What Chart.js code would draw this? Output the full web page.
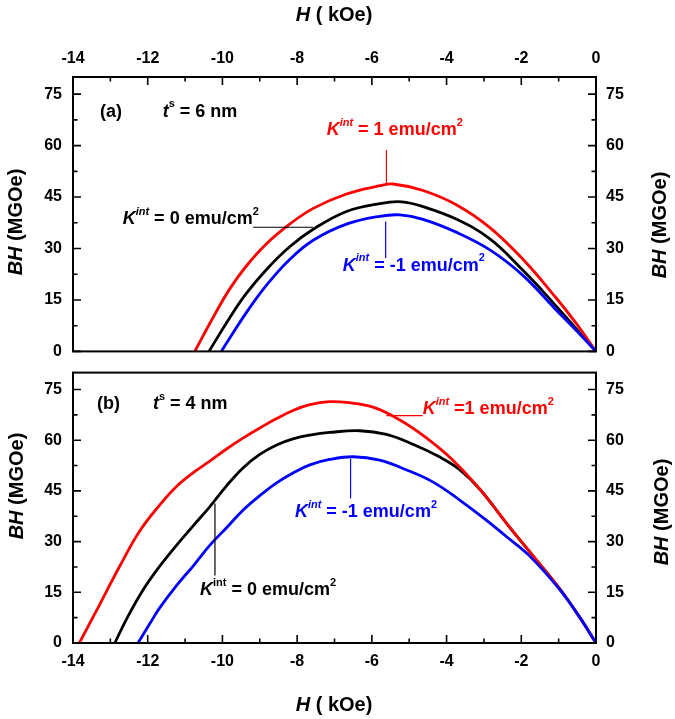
<!DOCTYPE html>
<html><head><meta charset="utf-8">
<script src="https://cdn.jsdelivr.net/npm/chart.js@4.4.0/dist/chart.umd.min.js"></script>
<style>
html,body{margin:0;padding:0;background:#fff;}
#wrap{position:relative;width:675px;height:719px;overflow:hidden;background:#fff;}
#c1{position:absolute;left:0;top:0;}
#c2{position:absolute;left:0;top:352px;}
</style></head><body>
<div id="wrap"><canvas id="c1" width="675" height="372"></canvas><canvas id="c2" width="675" height="367"></canvas></div>
<script>
// ---- data: panel (a), t^s = 6 nm ----
const topRedH    = [-10.74,-10.25,-9.80,-9.36,-8.82,-8.20,-7.57,-6.68,-5.79,-5.43,-4.63,-3.73,-2.84,-1.95,-1.06,-0.52,0];
const topRedBH   = [0,9.9,18.3,24.9,31.4,37.1,41.7,45.9,48.3,48.8,46.9,42.7,36.1,26.8,15.5,8.0,0];
const topBlackH  = [-10.36,-9.80,-9.36,-8.82,-8.20,-7.57,-6.68,-5.79,-5.20,-4.63,-3.73,-2.84,-1.95,-1.42,-1.06,-0.52,0];
const topBlackBH = [0,9.9,16.9,23.9,30.5,35.6,40.8,43.1,43.6,42.2,38.5,32.8,23.6,17.5,13.1,6.5,0];
const topBlueH   = [-10.03,-9.36,-8.82,-8.20,-7.57,-6.68,-5.79,-5.25,-4.63,-3.73,-2.84,-1.95,-1.06,-0.52,0];
const topBlueBH  = [0,11.3,19.3,26.8,32.4,37.1,39.4,39.8,38.5,34.7,29.6,22.1,12.0,6.0,0];
// ---- data: panel (b), t^s = 4 nm ----
const botRedH    = [-13.83,-13.29,-12.75,-12.21,-11.68,-11.23,-10.79,-10.34,-9.89,-9.45,-9.00,-8.55,-8.11,-7.66,-7.13,-6.68,-5.97,-5.25,-4.54,-3.83,-3.11,-2.40,-1.80,-0.97,-0.43,0];
const botRedBH   = [0,11.3,22.7,33.2,40.8,46.3,50.3,53.8,57.4,60.6,63.6,66.4,68.8,70.5,71.4,71.2,69.8,66.0,60.7,54.1,45.5,35.5,27.3,16.0,7.5,0];
const botBlackH  = [-12.88,-12.57,-12.13,-11.68,-11.23,-10.79,-10.34,-9.89,-9.45,-9.00,-8.55,-8.11,-7.66,-7.13,-6.32,-5.61,-4.90,-4.18,-3.65,-3.11,-2.40,-1.80,-0.97,-0.43,0];
const botBlackBH = [0,7.0,15.6,22.7,28.9,34.6,40.3,46.5,51.8,55.8,58.6,60.4,61.5,62.3,62.8,61.7,58.8,55.0,51.3,45.5,35.5,27.3,16.0,7.5,0];
const botBlueH   = [-12.26,-11.95,-11.68,-11.23,-10.79,-10.34,-9.89,-9.45,-9.00,-8.55,-8.11,-7.66,-7.13,-6.50,-5.79,-5.07,-4.36,-3.65,-2.93,-2.40,-1.80,-0.97,-0.43,0];
const botBlueBH  = [0,5.6,10.4,17.0,22.7,28.9,34.1,39.3,43.6,47.4,50.3,52.7,54.3,55.1,54.1,51.2,47.6,42.3,36.3,31.5,26.0,15.8,7.5,0];
// ---- axes ----
const xMin = -14, xMax = 0, xStep = 2, xMinorStep = 1;
const yMin = 0, yMax = 80, yTicks = [0,15,30,45,60,75], yMinorStep = 7.5;

const FONT = '"Liberation Sans", Arial, sans-serif';
const RED = '#ff0000', BLACK = '#000000', BLUE = '#0000ff';

function pts(xs, ys){ return xs.map((x,i)=>({x:x, y:ys[i]})); }
function ds(xs, ys, color){
  return {data:pts(xs,ys), borderColor:color, borderWidth:2.8, pointRadius:0, fill:false, tension:0.4};
}
function kLabel(val, intItalic, eqSpace){
  return [{t:'K',i:1},{t:'int',i:intItalic,sup:1},{t:(eqSpace?' = ':' =')+val+' emu/cm'},{t:'2',sup:1}];
}
// annotation definitions (data coordinates)
const annTop = {
  texts:[
    {H:-13.28,BH:69.9,color:BLACK,segs:[{t:'(a)'}]},
    {H:-11.6,BH:69.9,color:BLACK,segs:[{t:'t',i:1},{t:'s',sup:1},{t:' = 6 nm'}]},
    {H:-7.21,BH:64.6,color:RED,segs:kLabel('1',1,1)},
    {H:-12.67,BH:38.5,color:BLACK,segs:kLabel('0',1,1)},
    {H:-6.78,BH:25.0,color:BLUE,segs:kLabel('-1',1,1)}
  ],
  lines:[
    {color:RED,p:[[-5.61,58.7],[-5.61,48.8]]},
    {color:BLACK,p:[[-9.18,36.2],[-7.58,36.2]]},
    {color:BLUE,p:[[-5.63,37.9],[-5.63,27.2]]}
  ],
  xTickSide:'top',
  titles:[
    {kind:'x',x:334,y:15},
    {kind:'y',x:16,y:222},
    {kind:'y',x:660,y:225}
  ]
};
const annBot = {
  texts:[
    {H:-13.36,BH:70.7,color:BLACK,segs:[{t:'(b)'}]},
    {H:-11.86,BH:70.7,color:BLACK,segs:[{t:'t',i:1},{t:'s',sup:1},{t:' = 4 nm'}]},
    {H:-4.64,BH:69.3,color:RED,segs:kLabel('1',1,0)},
    {H:-8.06,BH:38.8,color:BLUE,segs:kLabel('-1',1,1)},
    {H:-10.6,BH:15.7,color:BLACK,segs:kLabel('0',0,1)}
  ],
  lines:[
    {color:RED,p:[[-5.61,67.3],[-4.64,67.3]]},
    {color:BLUE,p:[[-6.57,54.5],[-6.57,42.8]]},
    {color:BLACK,p:[[-10.2,41.3],[-10.2,20.0]]}
  ],
  xTickSide:'bottom',
  titles:[
    {kind:'x',x:334,y:705-352},
    {kind:'y',x:17,y:486-352},
    {kind:'y',x:662,y:512-352}
  ]
};

function drawRich(ctx, x, y, segs, size, color){
  let cx = x;
  ctx.textBaseline = 'middle'; ctx.textAlign = 'left'; ctx.fillStyle = color;
  for (const s of segs){
    const fs = s.sup ? Math.round(size*0.6) : size;
    ctx.font = (s.i?'italic ':'') + 'bold ' + fs + 'px ' + FONT;
    const dy = s.sup ? -size*0.4 : 0;
    ctx.fillText(s.t, cx, y+dy);
    cx += ctx.measureText(s.t).width;
  }
  return cx - x;
}
function measureRich(ctx, segs, size){
  let w = 0;
  for (const s of segs){
    const fs = s.sup ? Math.round(size*0.6) : size;
    ctx.font = (s.i?'italic ':'') + 'bold ' + fs + 'px ' + FONT;
    w += ctx.measureText(s.t).width;
  }
  return w;
}

const framePlugin = {
  id:'framePlugin',
  afterDraw(chart){
    const ann = chart.options.plugins.framePlugin.ann;
    const ctx = chart.ctx, a = chart.chartArea, xs = chart.scales.x, ys = chart.scales.y;
    ctx.save();
    ctx.strokeStyle = '#000'; ctx.lineWidth = 2;
    ctx.strokeRect(a.left, a.top, a.right-a.left, a.bottom-a.top);
    ctx.lineWidth = 1.6;
    ctx.beginPath();
    for (let v = xMin; v <= xMax + 1e-9; v += xMinorStep){
      const px = xs.getPixelForValue(v);
      const len = (Math.abs(v % xStep) < 1e-9) ? 8 : 4.5;
      if (ann.xTickSide === 'top'){ ctx.moveTo(px, a.top); ctx.lineTo(px, a.top+len); }
      else { ctx.moveTo(px, a.bottom); ctx.lineTo(px, a.bottom-len); }
    }
    for (let v = yMin; v <= yMax + 1e-9; v += yMinorStep){
      const py = ys.getPixelForValue(v);
      const len = yTicks.includes(v) ? 8 : 4.5;
      ctx.moveTo(a.left, py); ctx.lineTo(a.left+len, py);
      ctx.moveTo(a.right, py); ctx.lineTo(a.right-len, py);
    }
    ctx.stroke();
    ctx.lineWidth = 1.2;
    for (const l of ann.lines){
      ctx.strokeStyle = l.color;
      ctx.beginPath();
      ctx.moveTo(xs.getPixelForValue(l.p[0][0]), ys.getPixelForValue(l.p[0][1]));
      ctx.lineTo(xs.getPixelForValue(l.p[1][0]), ys.getPixelForValue(l.p[1][1]));
      ctx.stroke();
    }
    for (const t of ann.texts){
      drawRich(ctx, xs.getPixelForValue(t.H), ys.getPixelForValue(t.BH), t.segs, 18, t.color);
    }
    for (const ti of ann.titles){
      if (ti.kind === 'x'){
        const segs = [{t:'H',i:1},{t:' ( kOe)'}];
        const w = measureRich(ctx, segs, 20);
        drawRich(ctx, ti.x - w/2, ti.y, segs, 20, '#000');
      } else {
        const segs = [{t:'BH',i:1},{t:' (MGOe)'}];
        const w = measureRich(ctx, segs, 20);
        ctx.save();
        ctx.translate(ti.x, ti.y);
        ctx.rotate(-Math.PI/2);
        drawRich(ctx, -w/2, 0, segs, 20, '#000');
        ctx.restore();
      }
    }
    ctx.restore();
  }
};

function makeChart(id, datasets, ann, xPos, padding, xHeight){
  const tickFont = {family:FONT, size:16, weight:'bold'};
  return new Chart(document.getElementById(id), {
    type:'line',
    data:{datasets:datasets},
    plugins:[framePlugin],
    options:{
      responsive:false, animation:false, devicePixelRatio:1,
      layout:{padding:padding},
      plugins:{legend:{display:false}, tooltip:{enabled:false}, title:{display:false},
               framePlugin:{ann:ann}},
      scales:{
        x:{type:'linear', position:xPos, min:xMin, max:xMax,
           grid:{display:false, drawTicks:false}, border:{display:false},
           ticks:{stepSize:xStep, color:'#000', font:tickFont, padding:9, maxRotation:0, autoSkip:false},
           afterFit(s){ s.height = xHeight; }},
        y:{type:'linear', position:'left', min:yMin, max:yMax,
           grid:{display:false, drawTicks:false}, border:{display:false},
           ticks:{color:'#000', font:tickFont, padding:11},
           afterBuildTicks(s){ s.ticks = yTicks.map(v=>({value:v})); },
           afterFit(s){ s.width = 73; }},
        y2:{type:'linear', position:'right', min:yMin, max:yMax, display:true,
           grid:{display:false, drawTicks:false}, border:{display:false},
           ticks:{color:'#000', font:tickFont, padding:10},
           afterBuildTicks(s){ s.ticks = yTicks.map(v=>({value:v})); },
           afterFit(s){ s.width = 79; }}
      }
    }
  });
}

// first dataset is drawn on top: blue over red over black
makeChart('c1', [ds(topBlueH,topBlueBH,BLUE), ds(topRedH,topRedBH,RED), ds(topBlackH,topBlackBH,BLACK)],
          annTop, 'top', {top:0,left:0,right:0,bottom:10}, 77);
makeChart('c2', [ds(botBlueH,botBlueBH,BLUE), ds(botRedH,botRedBH,RED), ds(botBlackH,botBlackBH,BLACK)],
          annBot, 'bottom', {top:10,left:0,right:0,bottom:0}, 76);
</script>
</body></html>
